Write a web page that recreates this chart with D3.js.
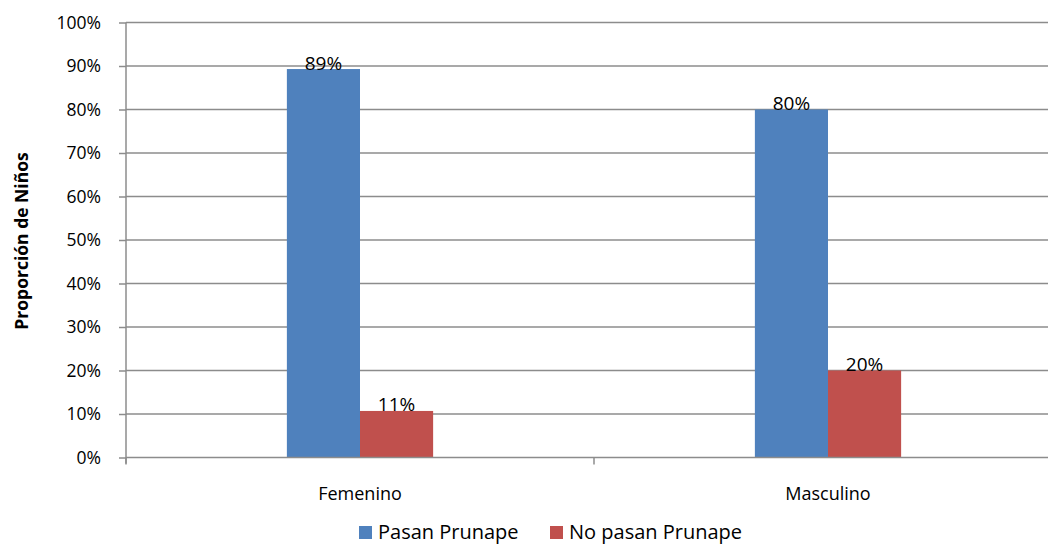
<!DOCTYPE html>
<html><head><meta charset="utf-8">
<script src="https://cdn.jsdelivr.net/npm/d3@7"></script>
<style>body{margin:0;background:#fff;} text{font-family:"Open Sans","Liberation Sans",sans-serif;fill:#000;}</style>
</head><body><svg id="c" width="1048" height="545"></svg>
<script>
const categories = ["Femenino", "Masculino"];
const seriesNames = ["Pasan Prunape", "No pasan Prunape"];
const pasan = [0.893, 0.80];
const noPasan = [0.107, 0.20];
const yTicks = [0,0.1,0.2,0.3,0.4,0.5,0.6,0.7,0.8,0.9,1.0];
const colors = ["#4F81BD", "#C0504D"];

const svg = d3.select("#c");
const mLeft = 126, mRight = 1062, mTop = 22.5, mBottom = 457.5;
const x = d3.scaleBand().domain(categories).range([mLeft, mRight]);
const xs = d3.scaleBand().domain(seriesNames).range([0, x.bandwidth()]).paddingOuter(2.2);
const y = d3.scaleLinear().domain([0,1]).range([mBottom, mTop]);
const gridColor = "#8c8c8c";

// gridlines
svg.append("g").selectAll("line").data(yTicks.slice(1)).join("line")
  .attr("x1", mLeft).attr("x2", mRight).attr("y1", d=>y(d)).attr("y2", d=>y(d))
  .attr("stroke", gridColor).attr("stroke-width", 1.5);

// y axis
const yAxis = svg.append("g").attr("transform", `translate(${mLeft},0)`)
  .call(d3.axisLeft(y).tickValues(yTicks).tickFormat(d3.format(".0%")).tickSize(7).tickPadding(18));
yAxis.select(".domain").attr("stroke", gridColor).attr("stroke-width", 1.5).attr("d", `M0,${mTop}V${mBottom+6}`);
yAxis.selectAll(".tick line").attr("stroke", gridColor).attr("stroke-width", 1.5);
yAxis.selectAll(".tick text").style("font-size", "17.5px").attr("fill", "#000");

// data
const data = categories.map((c,i)=>({c, vals:[pasan[i], noPasan[i]]}));
const bars = svg.append("g");
data.forEach(d=>{
  d.vals.forEach((v,j)=>{
    const bx = x(d.c) + xs(seriesNames[j]);
    bars.append("rect").attr("x", bx).attr("y", y(v)).attr("width", xs.bandwidth()).attr("height", y(0)-y(v)).attr("fill", colors[j]);
  });
});

// x axis
const xAxis = svg.append("g").attr("transform", `translate(0,${mBottom})`)
  .call(d3.axisBottom(x).tickSize(0).tickPadding(30));
xAxis.select(".domain").attr("stroke", gridColor).attr("stroke-width", 1.5).attr("d", `M${mLeft},0H${mRight}`);
xAxis.selectAll(".tick text").style("font-size", "18px");
const bounds = [mLeft, mLeft + x.bandwidth(), mRight];
xAxis.selectAll(".bt").data(bounds).join("line").attr("class","bt").attr("x1", d=>d).attr("x2", d=>d).attr("y1",0).attr("y2",7)
  .attr("stroke", gridColor).attr("stroke-width", 1.5);

// labels
data.forEach(d=>{
  d.vals.forEach((v,j)=>{
    const bx = x(d.c) + xs(seriesNames[j]) + xs.bandwidth()/2;
    svg.append("text").attr("x", bx).attr("y", y(v)+0.5).attr("text-anchor","middle")
      .style("font-size","19px").text(d3.format(".0%")(v));
  });
});

// y title
svg.append("text").attr("transform", "translate(28,241) rotate(-90)").attr("text-anchor","middle")
  .style("font-size","17.5px").style("font-weight","bold").text("Proporción de Niños");

// legend
const legX = [359, 550];
seriesNames.forEach((s,j)=>{
  svg.append("rect").attr("x", legX[j]).attr("y", 526).attr("width", 13).attr("height", 13).attr("fill", colors[j]);
  svg.append("text").attr("x", legX[j]+19).attr("y", 539).style("font-size","20px").text(s);
});
</script></body></html>
